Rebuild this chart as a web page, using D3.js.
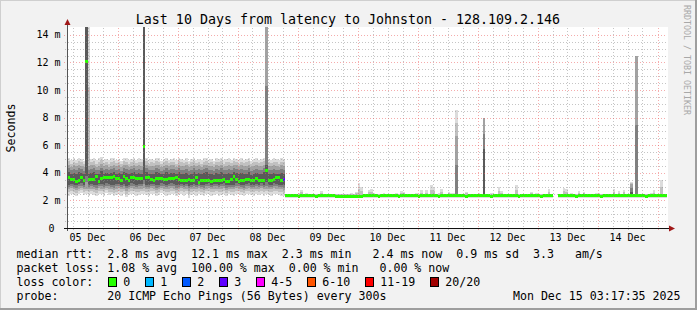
<!DOCTYPE html>
<html>
<head>
<meta charset="utf-8">
<script src="https://cdn.jsdelivr.net/npm/d3@7/dist/d3.min.js"></script>
<style>
  html, body { margin: 0; padding: 0; background: #f2f2f2; }
  svg { display: block; }
  text { font-family: "DejaVu Sans Mono", monospace; white-space: pre; }
</style>
</head>
<body>
<script>
// hourly buckets, first one starts Fri 05 Dec 03:00
var firstBucket = new Date(2025, 11, 5, 3, 0, 0);
var viewStart = new Date(2025, 11, 5, 3, 48, 0);
var viewEnd = new Date(2025, 11, 15, 3, 48, 0);

// median rtt per hour (ms)
var median = [
  3.63,3.63,3.55,3.55,3.36,3.48,3.65,3.46,12.1,3.55,
  3.53,3.53,3.72,3.36,3.58,3.63,3.63,3.63,3.63,3.77,
  3.58,3.58,3.43,3.72,3.58,3.41,3.63,3.63,3.58,3.58,
  3.58,5.9,3.63,3.63,3.55,3.43,3.58,3.58,3.58,3.53,
  3.53,3.58,3.58,3.58,3.65,3.55,3.48,3.48,3.43,3.53,
  3.43,3.43,3.63,3.29,3.43,3.43,3.46,3.46,3.34,3.48,
  3.46,3.46,3.48,3.53,3.36,3.36,3.53,3.72,3.53,3.36,
  3.41,3.41,3.53,3.53,3.46,3.46,3.58,3.43,3.48,3.48,
  4.2,3.48,3.48,3.53,3.63,3.63,3.43,3.55,
  2.33,2.33,2.34,2.33,2.33,2.32,2.33,2.33,2.34,2.33,
  2.33,2.33,2.32,2.33,2.33,2.33,2.34,2.33,2.33,2.33,
  2.32,2.32,2.31,2.31,2.32,2.31,2.31,2.32,2.32,2.31,
  2.32,2.33,2.33,2.34,2.33,2.33,2.33,2.32,2.33,2.33,
  2.33,2.34,2.33,2.33,2.33,2.32,2.33,2.33,2.33,2.34,
  2.33,2.33,2.33,2.32,2.33,2.33,2.33,2.34,2.33,2.33,
  2.33,2.32,2.33,2.33,2.33,2.33,2.34,2.33,2.33,2.33,
  2.33,2.33,2.32,2.33,2.33,2.33,2.34,2.33,2.33,2.35,
  2.33,2.33,2.32,2.33,2.33,2.33,2.33,2.34,2.33,2.33,
  2.33,2.33,2.33,2.32,2.33,2.33,2.33,2.33,2.34,2.33,
  2.33,2.33,2.32,2.33,2.33,2.33,2.33,null,null,2.33,
  2.33,2.33,2.34,2.33,2.33,2.33,2.32,2.33,2.33,2.33,
  2.33,2.34,2.33,2.33,2.33,2.33,2.32,2.33,2.33,2.33,
  2.33,2.33,2.34,2.33,2.33,2.33,2.33,2.33,2.35,2.33,
  2.34,2.33,2.33,2.33,2.32,2.33,2.33,2.33,2.33,2.34,
  2.33,2.33,2.33
];

// smoke: fastest / slowest ping per hour
var pingMin = [
  2.45,2.35,2.5,2.4,2.3,2.45,2.55,2.4,2.5,2.35,
  2.45,2.4,2.3,2.5,2.45,2.35,2.55,2.4,2.45,2.3,
  2.4,2.5,2.35,2.45,2.25,2.4,2.5,2.45,2.35,2.4,
  2.45,2.5,2.4,2.35,2.5,2.45,2.3,2.4,2.55,2.45,
  2.35,2.4,2.5,2.45,2.3,2.4,2.5,2.35,2.45,2.2,
  2.4,2.45,2.35,2.5,2.4,2.3,2.45,2.5,2.35,2.4,
  2.45,2.35,2.4,2.5,2.3,2.45,2.4,2.35,2.5,2.45,
  2.4,2.3,2.45,2.5,2.4,2.35,2.45,2.4,2.5,2.35,
  2.45,2.4,2.35,2.5,2.45,2.4,2.35,2.3,
  2.2,2.2,2.21,2.2,2.19,2.2,2.2,2.2,2.21,2.2,
  2.2,2.19,2.2,2.2,2.2,2.21,2.2,2.2,2.19,2.2,
  2.18,2.18,2.17,2.18,2.18,2.17,2.18,2.18,2.18,2.17,
  2.19,2.2,2.2,2.21,2.2,2.2,2.19,2.2,2.2,2.2,
  2.2,2.21,2.2,2.2,2.19,2.2,2.2,2.2,2.21,2.2,
  2.2,2.2,2.19,2.2,2.2,2.2,2.21,2.2,2.2,2.2,
  2.2,2.19,2.2,2.2,2.2,2.21,2.2,2.2,2.2,2.2,
  2.2,2.2,2.19,2.2,2.2,2.21,2.2,2.2,2.2,2.2,
  2.2,2.2,2.19,2.2,2.2,2.2,2.21,2.2,2.2,2.2,
  2.2,2.2,2.2,2.19,2.2,2.2,2.2,2.21,2.2,2.2,
  2.2,2.2,2.19,2.2,2.2,2.2,2.2,null,null,2.2,
  2.2,2.2,2.21,2.2,2.2,2.19,2.2,2.2,2.2,2.2,
  2.2,2.21,2.2,2.2,2.2,2.2,2.19,2.2,2.2,2.2,
  2.2,2.2,2.21,2.2,2.2,2.2,2.2,2.2,2.2,2.2,
  2.21,2.2,2.2,2.2,2.19,2.2,2.2,2.2,2.2,2.21,
  2.2,2.2,2.2
];
var pingMax = [
  5.0,5.1,4.9,5.05,4.95,5.1,5.0,4.85,16,16,
  5.0,5.1,4.9,5.05,5.15,4.95,5.0,4.9,5.05,5.1,
  4.95,5.0,4.85,5.1,5.05,4.9,5.0,5.1,4.95,5.05,
  5.0,16,5.1,4.9,5.0,4.95,5.1,5.05,4.85,5.0,
  5.1,4.95,5.0,5.05,4.9,5.1,5.0,4.95,5.05,4.85,
  5.0,5.1,4.95,5.0,4.9,5.05,5.1,4.95,5.0,4.85,
  5.05,5.0,5.1,4.9,5.0,5.05,4.95,5.1,5.0,4.9,
  5.05,4.95,5.0,5.1,4.85,5.0,5.05,4.95,5.0,5.1,
  16,5.0,4.95,5.05,5.0,4.9,5.05,5.0,
  2.47,2.47,2.5,2.48,2.47,2.52,2.75,2.48,2.56,2.47,
  2.47,2.5,2.47,2.48,2.68,2.47,2.47,2.5,2.47,2.47,
  2.47,2.48,2.47,2.5,2.47,2.47,2.52,2.48,2.6,3.28,
  3.0,2.5,2.47,2.75,2.8,2.55,2.47,2.48,2.47,2.52,
  2.47,2.5,2.47,2.48,2.52,2.47,2.65,2.6,2.47,2.5,
  2.48,2.47,2.52,2.47,2.72,2.48,2.72,2.5,3.12,2.9,
  2.47,2.52,2.85,2.5,2.47,2.6,2.55,2.55,8.55,2.5,
  2.47,2.5,2.62,2.48,2.47,2.5,2.47,2.52,2.48,7.95,
  2.5,2.47,2.55,2.48,2.5,2.95,2.7,2.48,2.47,2.5,
  2.47,2.5,3.12,2.48,2.47,2.5,2.47,2.48,2.6,2.47,
  2.55,2.47,2.5,2.48,2.47,2.8,2.5,null,null,2.47,
  2.5,2.9,2.8,2.47,2.55,2.5,2.47,2.68,2.48,2.6,
  2.47,2.5,2.48,2.47,2.55,2.55,2.47,2.5,2.47,2.48,
  2.5,2.8,2.47,2.65,2.5,2.78,2.47,2.5,3.36,2.5,
  12.5,2.5,2.47,2.48,2.5,2.47,2.52,2.72,2.48,2.5,
  3.48,2.5,2.47
];

// smoke: 10th / 90th percentile ping per hour
var midLo = [
  2.85,2.8,2.9,2.8,2.75,2.85,2.9,2.8,2.85,2.8,
  2.85,2.8,2.75,2.9,2.85,2.8,2.9,2.85,2.8,2.75,
  2.85,2.9,2.8,2.85,2.7,2.8,2.9,2.85,2.8,2.85,
  2.85,2.9,2.8,2.8,2.9,2.85,2.75,2.8,2.9,2.85,
  2.8,2.85,2.9,2.85,2.75,2.8,2.9,2.8,2.85,2.7,
  2.8,2.85,2.8,2.9,2.8,2.75,2.85,2.9,2.8,2.85,
  2.85,2.8,2.85,2.9,2.75,2.85,2.8,2.8,2.9,2.85,
  2.8,2.75,2.85,2.9,2.8,2.8,2.85,2.8,2.9,2.8,
  2.85,2.8,2.8,2.9,2.85,2.8,2.8,2.75,
  2.24,2.24,2.24,2.24,2.24,2.24,2.24,2.24,2.24,2.24,
  2.24,2.24,2.24,2.24,2.24,2.24,2.24,2.24,2.24,2.24,
  2.22,2.22,2.22,2.22,2.22,2.22,2.22,2.22,2.22,2.22,
  2.24,2.24,2.24,2.24,2.24,2.24,2.24,2.24,2.24,2.24,
  2.24,2.24,2.24,2.24,2.24,2.24,2.24,2.24,2.24,2.24,
  2.24,2.24,2.24,2.24,2.24,2.24,2.24,2.24,2.24,2.24,
  2.24,2.24,2.24,2.24,2.24,2.24,2.24,2.24,2.24,2.24,
  2.24,2.24,2.24,2.24,2.24,2.24,2.24,2.24,2.24,2.24,
  2.24,2.24,2.24,2.24,2.24,2.24,2.24,2.24,2.24,2.24,
  2.24,2.24,2.24,2.24,2.24,2.24,2.24,2.24,2.24,2.24,
  2.24,2.24,2.24,2.24,2.24,2.24,2.24,null,null,2.24,
  2.24,2.24,2.24,2.24,2.24,2.24,2.24,2.24,2.24,2.24,
  2.24,2.24,2.24,2.24,2.24,2.24,2.24,2.24,2.24,2.24,
  2.24,2.24,2.24,2.24,2.24,2.24,2.24,2.24,2.24,2.24,
  2.24,2.24,2.24,2.24,2.24,2.24,2.24,2.24,2.24,2.24,
  2.24,2.24,2.24
];
var midHi = [
  4.5,4.6,4.45,4.55,4.5,4.6,4.5,4.4,16,4.5,
  4.55,4.6,4.45,4.5,4.65,4.5,4.55,4.45,4.5,4.6,
  4.5,4.55,4.4,4.6,4.55,4.45,4.5,4.6,4.5,4.55,
  4.5,16,4.6,4.45,4.5,4.5,4.6,4.55,4.4,4.5,
  4.6,4.5,4.55,4.55,4.45,4.6,4.5,4.5,4.55,4.4,
  4.5,4.6,4.5,4.55,4.45,4.55,4.6,4.5,4.5,4.4,
  4.55,4.5,4.6,4.45,4.5,4.55,4.5,4.6,4.55,4.45,
  4.55,4.5,4.5,4.6,4.4,4.5,4.55,4.5,4.5,4.6,
  16,4.5,4.5,4.55,4.5,4.45,4.55,4.5,
  2.42,2.42,2.42,2.42,2.42,2.42,2.42,2.42,2.42,2.42,
  2.42,2.42,2.42,2.42,2.42,2.42,2.42,2.42,2.42,2.42,
  2.42,2.42,2.42,2.42,2.42,2.42,2.42,2.42,2.42,2.42,
  2.42,2.42,2.42,2.42,2.42,2.42,2.42,2.42,2.42,2.42,
  2.42,2.42,2.42,2.42,2.42,2.42,2.42,2.42,2.42,2.42,
  2.42,2.42,2.42,2.42,2.42,2.42,2.42,2.42,2.42,2.42,
  2.42,2.42,2.42,2.42,2.42,2.42,2.42,2.42,6.7,2.42,
  2.42,2.42,2.42,2.42,2.42,2.42,2.42,2.42,2.42,7.95,
  2.42,2.42,2.42,2.42,2.42,2.42,2.42,2.42,2.42,2.42,
  2.42,2.42,2.42,2.42,2.42,2.42,2.42,2.42,2.42,2.42,
  2.42,2.42,2.42,2.42,2.42,2.42,2.42,null,null,2.42,
  2.42,2.42,2.42,2.42,2.42,2.42,2.42,2.42,2.42,2.42,
  2.42,2.42,2.42,2.42,2.42,2.42,2.42,2.42,2.42,2.42,
  2.42,2.42,2.42,2.42,2.42,2.42,2.42,2.42,3.2,2.42,
  12.5,2.42,2.42,2.42,2.42,2.42,2.42,2.42,2.42,2.42,
  2.42,2.42,2.42
];

// smoke: 25th / 75th percentile ping per hour
var innerLo = [
  3.2,3.15,3.2,3.15,3.1,3.2,3.25,3.15,3.8,3.15,
  3.2,3.15,3.1,3.2,3.2,3.15,3.25,3.2,3.15,3.1,
  3.2,3.2,3.15,3.2,3.05,3.15,3.25,3.2,3.15,3.2,
  3.2,3.5,3.15,3.15,3.2,3.2,3.1,3.15,3.25,3.2,
  3.15,3.2,3.25,3.2,3.1,3.15,3.2,3.15,3.2,3.05,
  3.15,3.2,3.15,3.2,3.15,3.1,3.2,3.25,3.15,3.2,
  3.2,3.15,3.2,3.25,3.1,3.15,3.15,3.15,3.25,3.2,
  3.15,3.1,3.2,3.25,3.15,3.15,3.2,3.15,3.25,3.15,
  3.3,3.15,3.15,3.25,3.2,3.15,3.15,3.1,
  2.27,2.27,2.27,2.27,2.27,2.27,2.27,2.27,2.27,2.27,
  2.27,2.27,2.27,2.27,2.27,2.27,2.27,2.27,2.27,2.27,
  2.25,2.25,2.25,2.25,2.25,2.25,2.25,2.25,2.25,2.25,
  2.27,2.27,2.27,2.27,2.27,2.27,2.27,2.27,2.27,2.27,
  2.27,2.27,2.27,2.27,2.27,2.27,2.27,2.27,2.27,2.27,
  2.27,2.27,2.27,2.27,2.27,2.27,2.27,2.27,2.27,2.27,
  2.27,2.27,2.27,2.27,2.27,2.27,2.27,2.27,2.27,2.27,
  2.27,2.27,2.27,2.27,2.27,2.27,2.27,2.27,2.27,2.27,
  2.27,2.27,2.27,2.27,2.27,2.27,2.27,2.27,2.27,2.27,
  2.27,2.27,2.27,2.27,2.27,2.27,2.27,2.27,2.27,2.27,
  2.27,2.27,2.27,2.27,2.27,2.27,2.27,null,null,2.27,
  2.27,2.27,2.27,2.27,2.27,2.27,2.27,2.27,2.27,2.27,
  2.27,2.27,2.27,2.27,2.27,2.27,2.27,2.27,2.27,2.27,
  2.27,2.27,2.27,2.27,2.27,2.27,2.27,2.27,2.27,2.27,
  2.27,2.27,2.27,2.27,2.27,2.27,2.27,2.27,2.27,2.27,
  2.27,2.27,2.27
];
var innerHi = [
  4.0,4.05,3.95,4.0,3.9,4.05,4.0,3.9,16,3.95,
  4.0,4.05,3.95,3.95,4.1,3.95,4.0,3.95,4.0,4.05,
  3.95,4.0,3.9,4.05,4.0,3.9,4.0,4.05,3.95,4.0,
  3.95,16,4.05,3.95,3.95,3.95,4.05,4.0,3.9,3.95,
  4.05,3.95,4.0,4.0,3.9,4.05,3.95,3.95,4.0,3.85,
  3.95,4.05,3.95,4.0,3.9,4.0,4.05,3.95,3.95,3.85,
  4.0,3.95,4.05,3.9,3.95,4.0,3.95,4.05,4.0,3.9,
  4.0,3.95,3.95,4.05,3.85,3.95,4.0,3.95,3.95,4.05,
  4.6,3.95,3.95,4.0,3.95,3.9,4.0,3.95,
  2.38,2.38,2.38,2.38,2.38,2.38,2.38,2.38,2.38,2.38,
  2.38,2.38,2.38,2.38,2.38,2.38,2.38,2.38,2.38,2.38,
  2.37,2.37,2.37,2.37,2.37,2.37,2.37,2.37,2.37,2.37,
  2.38,2.38,2.38,2.38,2.38,2.38,2.38,2.38,2.38,2.38,
  2.38,2.38,2.38,2.38,2.38,2.38,2.38,2.38,2.38,2.38,
  2.38,2.38,2.38,2.38,2.38,2.38,2.38,2.38,2.38,2.38,
  2.38,2.38,2.38,2.38,2.38,2.38,2.38,2.38,2.38,2.38,
  2.38,2.38,2.38,2.38,2.38,2.38,2.38,2.38,2.38,5.7,
  2.38,2.38,2.38,2.38,2.38,2.38,2.38,2.38,2.38,2.38,
  2.38,2.38,2.38,2.38,2.38,2.38,2.38,2.38,2.38,2.38,
  2.38,2.38,2.38,2.38,2.38,2.38,2.38,null,null,2.38,
  2.38,2.38,2.38,2.38,2.38,2.38,2.38,2.38,2.38,2.38,
  2.38,2.38,2.38,2.38,2.38,2.38,2.38,2.38,2.38,2.38,
  2.38,2.38,2.38,2.38,2.38,2.38,2.38,2.38,2.6,2.38,
  2.38,2.38,2.38,2.38,2.38,2.38,2.38,2.38,2.38,2.38,
  2.38,2.38,2.38
];

// hours with lost pings (bucket index, pings lost of 20)
var lossHours = [87];
var lossPings = [3];

// loss color legend
var lossLabels = ["0", "1", "2", "3", "4-5", "6-10", "11-19", "20/20"];
var lossColors = ["#26ff00", "#00b8ff", "#0059ff", "#5e00ff", "#ff00ff", "#ff5500", "#ff0000", "#a10000"];
var lossUpper = [0, 1, 2, 3, 5, 10, 19, 20];

// axis labels
var dayLabels = ["05 Dec", "06 Dec", "07 Dec", "08 Dec", "09 Dec", "10 Dec", "11 Dec", "12 Dec", "13 Dec", "14 Dec"];
var yTicks = [0, 2, 4, 6, 8, 10, 12, 14];

var titleText = "Last 10 Days from latency to Johnston - 128.109.2.146";
var legendLines = [
  "median rtt:  2.8 ms avg  12.1 ms max  2.3 ms min   2.4 ms now  0.9 ms sd  3.3   am/s",
  "packet loss: 1.08 % avg  100.00 % max  0.00 % min   0.00 % now"
];
var probeText = "probe:       20 ICMP Echo Pings (56 Bytes) every 300s";
var stampText = "Mon Dec 15 03:17:35 2025";

var W = 697, H = 310;
var plotL = 67, plotR = 667, plotT = 28, plotB = 228;

// scales
var xscale = d3.scaleTime()
      .domain([viewStart, viewEnd])
      .range([plotL, plotR]);

var yscale = d3.scaleLinear()
      .domain([0, 14.5])
      .range([plotB, plotT]);

var svg = d3.select("body")
      .append("svg")
      .attr("width", W)
      .attr("height", H);

// background and frame
svg.append("rect").attr("width", W).attr("height", H).attr("fill", "#f2f2f2");
svg.append("rect").attr("x", 0).attr("y", 0).attr("width", W).attr("height", 1).attr("fill", "#cfcfcf");
svg.append("rect").attr("x", 0).attr("y", 0).attr("width", 1).attr("height", H).attr("fill", "#cfcfcf");
svg.append("rect").attr("x", W - 2).attr("y", 0).attr("width", 2).attr("height", H).attr("fill", "#9e9e9e");
svg.append("rect").attr("x", 0).attr("y", H - 2).attr("width", W).attr("height", 2).attr("fill", "#9e9e9e");

// canvas
svg.append("rect")
  .attr("x", plotL).attr("y", plotT - 1)
  .attr("width", plotR - plotL + 1).attr("height", plotB - plotT + 1)
  .attr("fill", "#ffffff");

svg.append("clipPath").attr("id", "plot")
  .append("rect")
  .attr("x", plotL).attr("y", plotT - 1)
  .attr("width", plotR - plotL).attr("height", plotB - plotT + 1);

var plot = svg.append("g").attr("clip-path", "url(#plot)");

function bucketTime(i) { return d3.timeHour.offset(firstBucket, i); }

// turn hourly values into step points (start and end of each hour)
function steps(lo, hi) {
  var pts = [];
  median.forEach(function(m, i) {
    var ok = lo[i] != null && hi[i] != null;
    pts.push({ t: bucketTime(i), lo: lo[i], hi: hi[i], ok: ok });
    pts.push({ t: bucketTime(i + 1), lo: lo[i], hi: hi[i], ok: ok });
  });
  return pts;
}

// halfway band between two percentile bands, only used for shading
function between(a, b) {
  return a.map(function(v, i) { return v == null ? null : (v + b[i]) / 2; });
}

var band = d3.area()
      .defined(function(d) { return d.ok; })
      .x(function(d) { return xscale(d.t); })
      .y0(function(d) { return yscale(d.lo); })
      .y1(function(d) { return yscale(d.hi); });

// draw smoke, lightest outside to darkest inside
var smoke = [
  { lo: pingMin, hi: pingMax, fill: "#dcdcdc" },
  { lo: between(pingMin, midLo), hi: between(pingMax, midHi), fill: "#c0c0c0" },
  { lo: midLo, hi: midHi, fill: "#a2a2a2" },
  { lo: between(midLo, innerLo), hi: between(midHi, innerHi), fill: "#808080" },
  { lo: innerLo, hi: innerHi, fill: "#5a5a5a" }
];
smoke.forEach(function(s) {
  plot.append("path")
    .attr("class", "smoke")
    .attr("d", band(steps(s.lo, s.hi)))
    .attr("fill", s.fill)
    .attr("shape-rendering", "crispEdges");
});

// loss class of every hour
function lossClass(n) {
  for (var k = 0; k < lossUpper.length; k++) {
    if (n <= lossUpper[k]) return k;
  }
  return lossUpper.length - 1;
}
var hourLoss = median.map(function(m, i) {
  var j = lossHours.indexOf(i);
  return j < 0 ? 0 : lossClass(lossPings[j]);
});

// median drawn as small blocks, colored by loss
var medBlock = d3.area()
      .defined(function(d) { return d.ok; })
      .x(function(d) { return xscale(d.t); })
      .y0(function(d) { return yscale(d.m) + 1.5; })
      .y1(function(d) { return yscale(d.m) - 1.5; });

lossColors.forEach(function(color, k) {
  var pts = [];
  median.forEach(function(m, i) {
    var ok = m != null && hourLoss[i] === k;
    pts.push({ t: bucketTime(i), m: m, ok: ok });
    pts.push({ t: bucketTime(i + 1), m: m, ok: ok });
  });
  if (!pts.some(function(d) { return d.ok; })) return;
  plot.append("path")
    .attr("class", "median")
    .attr("d", medBlock(pts))
    .attr("fill", color)
    .attr("shape-rendering", "crispEdges");
});

// grid
var minorX = d3.timeHour.every(6).range(viewStart, viewEnd);
var majorX = d3.timeDay.range(viewStart, viewEnd);
var minorY = d3.range(0.5, 14.5, 0.5).filter(function(v) { return v % 2 !== 0; });

var grid = svg.append("g").attr("fill", "none").attr("stroke-dasharray", "1,2");

grid.selectAll(".minor-x")
  .data(minorX.filter(function(t) { return t.getHours() !== 0; }))
  .enter().append("line")
  .attr("x1", function(d) { return Math.round(xscale(d)) + 0.5; })
  .attr("x2", function(d) { return Math.round(xscale(d)) + 0.5; })
  .attr("y1", plotT).attr("y2", plotB + 2)
  .attr("stroke", "rgba(140,140,140,0.5)");

grid.selectAll(".minor-y")
  .data(minorY)
  .enter().append("line")
  .attr("x1", plotL - 2).attr("x2", plotR)
  .attr("y1", function(d) { return Math.round(yscale(d)) + 0.5; })
  .attr("y2", function(d) { return Math.round(yscale(d)) + 0.5; })
  .attr("stroke", "rgba(140,140,140,0.5)");

grid.selectAll(".major-x")
  .data(majorX)
  .enter().append("line")
  .attr("x1", function(d) { return Math.round(xscale(d)) + 0.5; })
  .attr("x2", function(d) { return Math.round(xscale(d)) + 0.5; })
  .attr("y1", plotT).attr("y2", plotB + 3)
  .attr("stroke", "rgba(235,90,90,0.5)");

grid.selectAll(".major-y")
  .data(yTicks.filter(function(v) { return v > 0; }))
  .enter().append("line")
  .attr("x1", plotL - 3).attr("x2", plotR)
  .attr("y1", function(d) { return Math.round(yscale(d)) + 0.5; })
  .attr("y2", function(d) { return Math.round(yscale(d)) + 0.5; })
  .attr("stroke", "rgba(235,90,90,0.5)");

// axes with arrows
svg.append("line")
  .attr("x1", plotL + 0.5).attr("x2", plotL + 0.5)
  .attr("y1", plotB + 3).attr("y2", plotT - 5)
  .attr("stroke", "#555");
svg.append("line")
  .attr("x1", plotL - 3).attr("x2", plotR + 4)
  .attr("y1", plotB + 0.5).attr("y2", plotB + 0.5)
  .attr("stroke", "#111");
svg.append("path")
  .attr("d", "M" + (plotL + 0.5) + "," + (plotT - 9) + "L" + (plotL + 3.5) + "," + (plotT - 3) + "L" + (plotL - 2.5) + "," + (plotT - 3) + "Z")
  .attr("fill", "#a01818");
svg.append("path")
  .attr("d", "M" + (plotR + 8) + "," + (plotB + 0.5) + "L" + (plotR + 2) + "," + (plotB - 2.5) + "L" + (plotR + 2) + "," + (plotB + 3.5) + "Z")
  .attr("fill", "#a01818");

// y tick labels
svg.selectAll(".ylabel")
  .data(yTicks)
  .enter().append("text")
  .attr("class", "ylabel")
  .attr("x", 60.5)
  .attr("y", function(d) { return yscale(d) + 3.6; })
  .attr("text-anchor", "end")
  .attr("font-size", "10px")
  .attr("fill", "#000")
  .text(function(d) { return d === 0 ? "0\u00a0" : d + " m"; });

// x tick labels, centred at noon
svg.selectAll(".xlabel")
  .data(dayLabels)
  .enter().append("text")
  .attr("class", "xlabel")
  .attr("x", function(d, i) { return xscale(new Date(2025, 11, 5 + i, 12)); })
  .attr("y", 241)
  .attr("text-anchor", "middle")
  .attr("font-size", "10px")
  .attr("fill", "#000")
  .text(function(d) { return d; });

// titles
svg.append("text")
  .attr("x", 348).attr("y", 23.5)
  .attr("text-anchor", "middle")
  .attr("font-size", "13.3px")
  .attr("fill", "#000")
  .text(titleText);

svg.append("text")
  .attr("transform", "translate(15,128) rotate(-90)")
  .attr("text-anchor", "middle")
  .attr("font-size", "11.6px")
  .attr("fill", "#000")
  .text("Seconds");

svg.append("text")
  .attr("transform", "translate(684,5) rotate(90)")
  .attr("font-size", "8.3px")
  .attr("fill", "#a8a8a8")
  .text("RRDTOOL / TOBI OETIKER");

// legend
var legend = svg.append("g")
      .attr("font-size", "11.6px")
      .attr("fill", "#000")
      .attr("xml:space", "preserve");

legendLines.forEach(function(line, i) {
  legend.append("text").attr("x", 16.5).attr("y", 258 + i * 14).text(line);
});
legend.append("text").attr("x", 16.5).attr("y", 286).text("loss color:");

var cx = 108;
lossLabels.forEach(function(lbl, k) {
  legend.append("rect")
    .attr("x", cx + 0.5).attr("y", 277.5)
    .attr("width", 8).attr("height", 9)
    .attr("fill", lossColors[k])
    .attr("stroke", "#000").attr("stroke-width", 1);
  legend.append("text").attr("x", cx + 15.3).attr("y", 286).text(lbl);
  cx = cx + 15.3 + lbl.length * 7 + 14.7;
});

legend.append("text").attr("x", 16.5).attr("y", 300).text(probeText);
legend.append("text").attr("x", 680.5).attr("y", 300).attr("text-anchor", "end").text(stampText);
</script>
</body>
</html>
